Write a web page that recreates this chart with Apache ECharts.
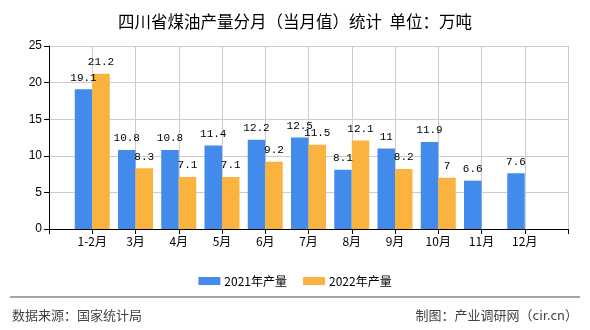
<!DOCTYPE html>
<html>
<head>
<meta charset="utf-8">
<script src="https://cdn.jsdelivr.net/npm/echarts@6/dist/echarts.min.js"></script>
<style>
html,body{margin:0;padding:0;background:#fff;}
#chart{width:590px;height:330px;}
</style>
</head>
<body>
<div id="chart"></div>
<script>
var categories = ['', '1-2月', '3月', '4月', '5月', '6月', '7月', '8月', '9月', '10月', '11月', '12月', ''];
var series2021 = ['-', 19.1, 10.8, 10.8, 11.4, 12.2, 12.5, 8.1, 11, 11.9, 6.6, 7.6, '-'];
var series2022 = ['-', 21.2, 8.3, 7.1, 7.1, 9.2, 11.5, 12.1, 8.2, 7, '-', '-', '-'];
var seriesNames = ['2021年产量', '2022年产量'];
var titleText = '四川省煤油产量分月（当月值）统计  单位：万吨';
var sourceText = '数据来源：国家统计局';
var makerText = '制图：产业调研网（cir.cn）';

var chart = echarts.init(document.getElementById('chart'), null, {renderer: 'canvas'});
var labelStyle = {
  show: true, position: 'top', distance: 6,
  fontFamily: 'Liberation Mono, DejaVu Sans Mono, monospace', fontSize: 11, color: '#000'
};
chart.setOption({
  animation: false,
  backgroundColor: '#fff',
  title: {
    text: titleText, left: 'center', top: 8,
    textStyle: {fontSize: 16.5, fontWeight: 'normal', color: '#000', fontFamily: 'Noto Sans CJK SC, sans-serif'}
  },
  legend: {
    data: seriesNames, top: 270, left: 'center',
    itemWidth: 22, itemHeight: 8, itemGap: 16,
    icon: 'rect',
    textStyle: {fontSize: 12, color: '#000', fontFamily: 'Noto Sans CJK SC, sans-serif', padding: [0, 0, 0, -1]}
  },
  grid: {left: 49, right: 22, top: 46, bottom: 101, containLabel: false},
  xAxis: {
    type: 'category', data: categories, boundaryGap: false,
    axisLine: {lineStyle: {color: '#000', width: 1}},
    axisTick: {show: true, length: 5, interval: 0, lineStyle: {color: '#000'}},
    axisLabel: {interval: 0, color: '#000', fontSize: 12, margin: 6, fontFamily: 'Noto Sans CJK SC, sans-serif'},
    splitLine: {show: true, interval: 0, lineStyle: {color: '#cccccc', width: 1}}
  },
  yAxis: {
    type: 'value', min: 0, max: 25, interval: 5,
    axisLine: {show: true, lineStyle: {color: '#000', width: 1}},
    axisTick: {show: true, length: 5, lineStyle: {color: '#000'}},
    axisLabel: {color: '#000', fontSize: 12, margin: 7, fontFamily: 'Liberation Sans, sans-serif'},
    splitLine: {show: true, lineStyle: {color: '#cccccc', width: 1}}
  },
  series: [
    {name: seriesNames[0], type: 'bar', data: series2021, barWidth: 17.5, barGap: '0%',
     itemStyle: {color: '#428bec'}, label: labelStyle},
    {name: seriesNames[1], type: 'bar', data: series2022, barWidth: 17.5, barGap: '0%',
     itemStyle: {color: '#fbb340'}, label: labelStyle}
  ],
  graphic: [
    {type: 'line', shape: {x1: 10, y1: 297, x2: 580, y2: 297}, style: {stroke: '#888', lineWidth: 1.5}},
    {type: 'text', left: 12, top: 309, style: {text: sourceText, fontSize: 13, fill: '#444', fontFamily: 'Noto Sans CJK SC, sans-serif'}},
    {type: 'text', right: 12, top: 309, style: {text: makerText, fontSize: 13, fill: '#444', fontFamily: 'Noto Sans CJK SC, sans-serif'}}
  ]
});
</script>
</body>
</html>
